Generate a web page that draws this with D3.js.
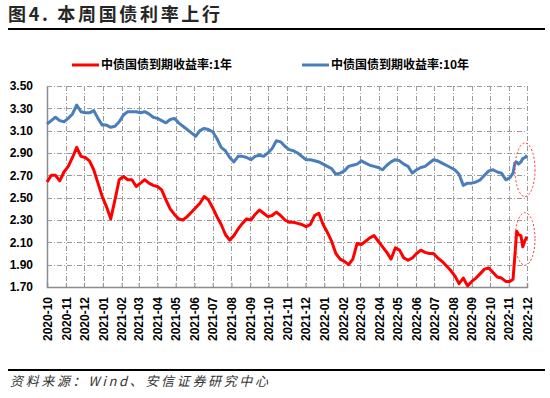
<!DOCTYPE html>
<html>
<head>
<meta charset="utf-8">
<script src="https://cdn.jsdelivr.net/npm/d3@7"></script>
<style>
  body { margin: 0; background: #fff; }
  svg { display: block; font-family: "Liberation Sans", Arial, "Noto Sans CJK SC", sans-serif; }
</style>
</head>
<body>
<svg id="chart" width="550" height="398"></svg>
<script>
// 日期（周度取样，末尾加密）
const dates = [
  "2020-10-01","2020-10-08","2020-10-15","2020-10-22","2020-10-29",
  "2020-11-05","2020-11-12","2020-11-19","2020-11-26",
  "2020-12-03","2020-12-10","2020-12-17","2020-12-24","2020-12-31",
  "2021-01-07","2021-01-14","2021-01-21","2021-01-28",
  "2021-02-04","2021-02-11","2021-02-18","2021-02-25",
  "2021-03-04","2021-03-11","2021-03-18","2021-03-25",
  "2021-04-01","2021-04-08","2021-04-15","2021-04-22","2021-04-29",
  "2021-05-06","2021-05-13","2021-05-20","2021-05-27",
  "2021-06-03","2021-06-10","2021-06-17","2021-06-24",
  "2021-07-01","2021-07-08","2021-07-15","2021-07-22","2021-07-29",
  "2021-08-05","2021-08-12","2021-08-19","2021-08-26",
  "2021-09-02","2021-09-09","2021-09-16","2021-09-23","2021-09-30",
  "2021-10-07","2021-10-14","2021-10-21","2021-10-28",
  "2021-11-04","2021-11-11","2021-11-18","2021-11-25",
  "2021-12-02","2021-12-09","2021-12-16","2021-12-23","2021-12-30",
  "2022-01-06","2022-01-13","2022-01-20","2022-01-27",
  "2022-02-03","2022-02-10","2022-02-17","2022-02-24",
  "2022-03-03","2022-03-10","2022-03-17","2022-03-24","2022-03-31",
  "2022-04-07","2022-04-14","2022-04-21","2022-04-28",
  "2022-05-05","2022-05-12","2022-05-19","2022-05-26",
  "2022-06-02","2022-06-09","2022-06-16","2022-06-23","2022-06-30",
  "2022-07-07","2022-07-14","2022-07-21","2022-07-28",
  "2022-08-04","2022-08-11","2022-08-18","2022-08-25",
  "2022-09-01","2022-09-08","2022-09-15","2022-09-22","2022-09-29",
  "2022-10-06","2022-10-13","2022-10-20","2022-10-27",
  "2022-11-03","2022-11-08","2022-11-11","2022-11-14","2022-11-17",
  "2022-11-21","2022-11-24","2022-11-28","2022-12-01"
];

// 中债国债到期收益率:1年
const y1 = [
  2.64,2.70,2.70,2.65,2.73,
  2.78,2.86,2.95,2.87,
  2.86,2.83,2.75,2.63,2.51,
  2.42,2.31,2.48,2.66,
  2.69,2.66,2.66,2.60,
  2.63,2.66,2.63,2.61,
  2.60,2.57,2.48,2.40,2.35,
  2.31,2.30,2.33,2.37,
  2.41,2.45,2.51,2.48,
  2.41,2.33,2.26,2.17,2.12,
  2.16,2.22,2.27,2.31,
  2.30,2.35,2.39,2.36,2.33,
  2.34,2.37,2.34,2.30,
  2.28,2.28,2.27,2.26,
  2.24,2.26,2.34,2.36,2.26,
  2.19,2.11,2.00,1.95,
  1.93,1.90,1.95,2.09,
  2.08,2.11,2.14,2.16,2.11,
  2.06,2.01,1.95,2.05,
  2.03,1.96,1.94,1.96,
  2.00,2.03,2.01,2.00,2.00,
  1.96,1.93,1.89,1.85,
  1.80,1.73,1.78,1.71,
  1.75,1.78,1.82,1.86,1.87,
  1.83,1.79,1.78,1.75,
  1.75,1.77,1.98,2.20,2.17,
  2.16,2.06,2.12,2.15
];

// 中债国债到期收益率:10年
const y10 = [
  3.16,3.19,3.22,3.19,3.18,
  3.21,3.25,3.33,3.27,
  3.26,3.26,3.28,3.21,3.15,
  3.15,3.13,3.14,3.18,
  3.24,3.27,3.27,3.27,
  3.26,3.27,3.25,3.22,
  3.21,3.19,3.17,3.20,3.21,
  3.17,3.14,3.11,3.08,
  3.05,3.10,3.12,3.11,
  3.09,3.03,2.95,2.92,2.86,
  2.82,2.87,2.87,2.86,
  2.84,2.87,2.88,2.87,2.90,
  2.94,3.01,3.00,2.96,
  2.93,2.92,2.90,2.87,
  2.84,2.84,2.83,2.82,2.80,
  2.78,2.76,2.71,2.72,
  2.74,2.78,2.79,2.80,
  2.83,2.81,2.79,2.78,2.77,
  2.75,2.79,2.82,2.84,
  2.83,2.80,2.78,2.72,
  2.75,2.77,2.78,2.81,2.84,
  2.83,2.81,2.79,2.77,
  2.75,2.71,2.61,2.63,
  2.63,2.64,2.66,2.70,2.74,
  2.75,2.73,2.72,2.66,
  2.68,2.72,2.81,2.82,2.80,
  2.82,2.85,2.86,2.88
];

const yTicks = [1.7, 1.9, 2.1, 2.3, 2.5, 2.7, 2.9, 3.1, 3.3, 3.5];
const seriesNames = ["中债国债到期收益率:1年", "中债国债到期收益率:10年"];
const seriesColors = ["#ff0000", "#4a7ebb"];

const svg = d3.select("#chart");
const parse = d3.timeParse("%Y-%m-%d");
const dd = dates.map(parse);

// 作图区
const x = d3.scaleTime()
  .domain([parse("2020-10-01"), parse("2022-12-01")])
  .range([47, 527]);
const y = d3.scaleLinear().domain([1.7, 3.5]).range([287, 86]);

// 标题
svg.append("text")
  .attr("x", 8).attr("y", 21)
  .attr("font-family", "Noto Sans CJK SC")
  .attr("font-weight", "bold")
  .attr("font-size", 18)
  .attr("fill", "#262626")
  .attr("textLength", 212)
  .text("图4. 本周国债利率上行");
svg.append("line")
  .attr("x1", 8).attr("x2", 545).attr("y1", 29).attr("y2", 29)
  .attr("stroke", "#000").attr("stroke-width", 2);

// 网格线
const grid = svg.append("g").attr("stroke", "#9a9a9a").attr("stroke-width", 1)
  .attr("stroke-dasharray", "5,2,1,2");
grid.selectAll(".hg").data(yTicks.filter(d => d > 1.7)).enter()
  .append("line")
  .attr("x1", 47).attr("x2", 527)
  .attr("y1", d => Math.round(y(d)) + 0.5).attr("y2", d => Math.round(y(d)) + 0.5);
const months = d3.timeMonth.range(parse("2020-10-01"), parse("2022-12-02"));
grid.selectAll(".vg").data(months.slice(1)).enter()
  .append("line")
  .attr("y1", 86).attr("y2", 287)
  .attr("x1", d => Math.round(x(d)) + 0.5).attr("x2", d => Math.round(x(d)) + 0.5);

// 坐标轴
const yAxis = d3.axisLeft(y).tickValues(yTicks).tickFormat(d3.format(".2f")).tickSize(0).tickPadding(14);
const gy = svg.append("g").attr("transform", "translate(47,0)").call(yAxis);
gy.select(".domain").attr("stroke", "#8c8c8c").attr("stroke-width", 1.5);
gy.selectAll("text").attr("font-size", 12).attr("font-weight", "bold").attr("fill", "#000");

const xAxis = d3.axisBottom(x).tickValues(months).tickFormat(d3.timeFormat("%Y-%m")).tickSize(-4).tickPadding(0);
const gx = svg.append("g").attr("transform", "translate(0,287)").call(xAxis);
gx.select(".domain").attr("stroke", "#8c8c8c").attr("stroke-width", 1.5);
gx.selectAll(".tick line").attr("stroke", "#8c8c8c");
gx.selectAll("text")
  .attr("font-size", 12).attr("font-weight", "bold").attr("fill", "#000")
  .attr("text-anchor", "end")
  .attr("transform", "rotate(-90)")
  .attr("x", -10).attr("y", 0).attr("dy", "0.35em");

// 折线
const line = d3.line().x((d, i) => x(dd[i])).y(d => y(d));
[y1, y10].forEach((vals, i) => {
  svg.append("path")
    .datum(vals)
    .attr("fill", "none")
    .attr("stroke", seriesColors[i])
    .attr("stroke-width", 3)
    .attr("stroke-linejoin", "round")
    .attr("d", line);
});

// 图例
const legX = [72, 302];
seriesNames.forEach((name, i) => {
  const g = svg.append("g").attr("transform", `translate(${legX[i]},65)`);
  g.append("line").attr("x1", 0).attr("x2", 27).attr("stroke", seriesColors[i]).attr("stroke-width", 3);
  g.append("text").attr("x", 29).attr("dy", "0.36em")
    .attr("font-family", "Noto Sans CJK SC")
    .attr("font-size", 12).attr("font-weight", "bold").attr("fill", "#000")
    .text(name);
});

// 红色虚线圈
const last = dd[dd.length - 1];
[[2.75, 0.24], [2.13, 0.235]].forEach(c => {
  svg.append("ellipse")
    .attr("cx", x(last) - 2)
    .attr("cy", y(c[0]))
    .attr("rx", 10)
    .attr("ry", y(c[0] - c[1]) - y(c[0]))
    .attr("fill", "none")
    .attr("stroke", "#ff3030")
    .attr("stroke-width", 1)
    .attr("stroke-dasharray", "2,2");
});

// 资料来源
svg.append("line")
  .attr("x1", 8).attr("x2", 545).attr("y1", 370).attr("y2", 370)
  .attr("stroke", "#000").attr("stroke-width", 2);
svg.append("text")
  .attr("x", 10).attr("y", 386)
  .attr("font-family", "Noto Sans CJK SC")
  .attr("font-style", "italic")
  .attr("font-size", 13)
  .attr("fill", "#333")
  .attr("textLength", 258)
  .text("资料来源：Wind、安信证券研究中心");
</script>
</body>
</html>
